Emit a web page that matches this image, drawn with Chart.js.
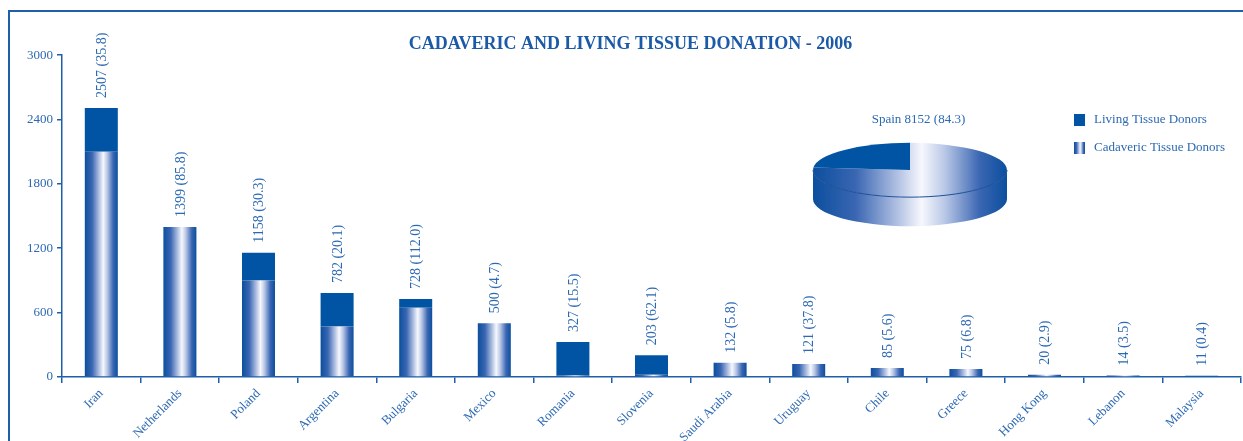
<!DOCTYPE html>
<html>
<head>
<meta charset="utf-8">
<title>Cadaveric and living tissue donation - 2006</title>
<script src="https://cdn.jsdelivr.net/npm/chart.js@4.4.1/dist/chart.umd.min.js"></script>
<style>
  html, body { margin: 0; padding: 0; background: #fff; }
  #wrap { position: relative; width: 1243px; height: 441px; overflow: hidden; }
  #frame { position: absolute; left: 8px; top: 10px; right: -4px; bottom: -4px; border-left: 2px solid #1f5ea9; border-top: 2px solid #1f5ea9; }
  #bars { position: absolute; left: 0; top: 0; }
  #pie { position: absolute; left: 800px; top: 100px; }
</style>
</head>
<body>
<div id="wrap">
  <div id="frame"></div>
  <canvas id="bars" width="1243" height="441"></canvas>
  <canvas id="pie" width="220" height="140"></canvas>
</div>
<script>
// values (donors, and rate per million in brackets)
const categories = ['Iran', 'Netherlands', 'Poland', 'Argentina', 'Bulgaria', 'Mexico', 'Romania', 'Slovenia',
  'Saudi Arabia', 'Uruguay', 'Chile', 'Greece', 'Hong Kong', 'Lebanon', 'Malaysia'];
const cadaveric = [2100, 1399, 900, 470, 645, 500, 15, 20, 132, 121, 85, 75, 20, 14, 0];
const living = [407, 0, 258, 312, 83, 0, 312, 183, 0, 0, 0, 0, 0, 0, 11];
const ratePerMillion = [35.8, 85.8, 30.3, 20.1, 112.0, 4.7, 15.5, 62.1, 5.8, 37.8, 5.6, 6.8, 2.9, 3.5, 0.4];
const yTicks = [0, 600, 1200, 1800, 2400, 3000];

// Spain is shown apart as a pie
const spainName = 'Spain';
const spainCadaveric = 6232;
const spainLiving = 1920;
const spainRate = 84.3;

const SERIF = '"Liberation Serif", "DejaVu Serif", serif';
const DARK = '#0054a3';
const INK = '#2c69b3';
const AXIS = '#1f5ea9';

Chart.defaults.font.family = SERIF;

// the shiny cylinder look: dark edges, white in the middle
function stripe(ctx, x0, x1) {
  if (!Number.isFinite(x0) || !Number.isFinite(x1) || x1 <= x0) return DARK;
  const g = ctx.createLinearGradient(x0, 0, x1, 0);
  g.addColorStop(0, '#0b4f9e');
  g.addColorStop(0.22, '#3a66b2');
  g.addColorStop(0.45, '#b9c7e6');
  g.addColorStop(0.56, '#f7f8fd');
  g.addColorStop(0.68, '#b9c7e6');
  g.addColorStop(0.86, '#3a66b2');
  g.addColorStop(1, '#0b4f9e');
  return g;
}

const BAR_PCT = 0.42;

function barStripe(c) {
  const xs = c.chart.scales.x;
  if (!xs || c.dataIndex === undefined) return DARK;
  const cx = xs.getPixelForValue(c.dataIndex);
  const w = xs.width / categories.length * BAR_PCT;
  return stripe(c.chart.ctx, cx - w / 2, cx + w / 2);
}

// total (rate) written upwards above each stack
const totalsLabels = {
  id: 'totalsLabels',
  afterDatasetsDraw(chart) {
    const { ctx, scales: { x, y } } = chart;
    ctx.save();
    ctx.fillStyle = INK;
    ctx.font = '14px ' + SERIF;
    ctx.textAlign = 'left';
    ctx.textBaseline = 'middle';
    categories.forEach((name, i) => {
      const total = cadaveric[i] + living[i];
      ctx.save();
      ctx.translate(x.getPixelForValue(i) + 1, y.getPixelForValue(total) - 10);
      ctx.rotate(-Math.PI / 2);
      ctx.fillText(total + ' (' + ratePerMillion[i].toFixed(1) + ')', 0, 0);
      ctx.restore();
    });
    ctx.restore();
  }
};

// legend sits top right, next to the pie
const sideLegend = {
  id: 'sideLegend',
  afterDraw(chart) {
    const ctx = chart.ctx;
    const items = [chart.data.datasets[1], chart.data.datasets[0]];
    ctx.save();
    ctx.font = '13px ' + SERIF;
    ctx.textBaseline = 'middle';
    items.forEach((ds, k) => {
      const top = 114 + k * 28;
      ctx.fillStyle = k === 0 ? DARK : stripe(ctx, 1074, 1085);
      ctx.fillRect(1074, top, 11, 12);
      ctx.fillStyle = INK;
      ctx.fillText(ds.label, 1094, top + 6);
    });
    ctx.restore();
  }
};

new Chart(document.getElementById('bars'), {
  type: 'bar',
  data: {
    labels: categories,
    datasets: [
      { label: 'Cadaveric Tissue Donors', data: cadaveric, backgroundColor: barStripe },
      { label: 'Living Tissue Donors', data: living, backgroundColor: DARK }
    ]
  },
  options: {
    responsive: false,
    animation: false,
    categoryPercentage: 1,
    barPercentage: BAR_PCT,
    layout: { padding: { left: 20, right: 2, top: 0, bottom: 0 } },
    scales: {
      x: {
        stacked: true,
        ticks: { color: INK, font: { size: 13 }, minRotation: 45, maxRotation: 45, autoSkip: false, padding: 3 },
        grid: { offset: true, drawOnChartArea: false, tickLength: 6, color: AXIS, lineWidth: 1.5 },
        border: { color: AXIS, width: 1.5 },
        afterFit: (s) => { s.height = 64; }
      },
      y: {
        stacked: true,
        min: 0,
        max: 3000,
        afterBuildTicks: (s) => { s.ticks = yTicks.map(v => ({ value: v })); },
        ticks: { color: INK, font: { size: 13 }, padding: 4, callback: (v) => String(v) },
        grid: { drawOnChartArea: false, tickLength: 5, color: AXIS, lineWidth: 1.5 },
        border: { color: AXIS, width: 1.5 },
        afterFit: (s) => { s.width = 42; }
      }
    },
    plugins: {
      legend: { display: false },
      tooltip: { enabled: false },
      title: {
        display: true,
        text: 'CADAVERIC AND LIVING TISSUE DONATION - 2006',
        color: '#1c5aa6',
        font: { size: 18, weight: 'bold' },
        padding: { top: 33.5, bottom: 0 }
      }
    }
  },
  plugins: [totalsLabels, sideLegend]
});

// squash the pie into a tilted disc and give it a rim
const pie3d = {
  id: 'pie3d',
  beforeDatasetsDraw(chart, args, opts) {
    const arc = chart.getDatasetMeta(0).data[0];
    const { x, y, outerRadius: r } = arc;
    const ctx = chart.ctx;
    const depth = opts.depth / opts.tilt;
    ctx.save();
    ctx.translate(opts.centerX, opts.centerY);
    ctx.scale(1, opts.tilt);
    ctx.translate(-x, -y);
    ctx.fillStyle = stripe(ctx, x - r, x + r);
    ctx.beginPath();
    ctx.arc(x, y + depth, r, 0, Math.PI);
    ctx.lineTo(x - r, y);
    ctx.arc(x, y, r, Math.PI, 0, true);
    ctx.closePath();
    ctx.fill();
  },
  afterDatasetsDraw(chart, args, opts) {
    const ctx = chart.ctx;
    ctx.restore();
    const r = chart.getDatasetMeta(0).data[0].outerRadius;
    ctx.save();
    ctx.strokeStyle = '#1d4f96';
    ctx.lineWidth = 1;
    ctx.beginPath();
    ctx.ellipse(opts.centerX, opts.centerY, r, r * opts.tilt, 0, 0, Math.PI);
    ctx.stroke();
    ctx.restore();
  }
};

new Chart(document.getElementById('pie'), {
  type: 'pie',
  data: {
    labels: ['Cadaveric Tissue Donors', 'Living Tissue Donors'],
    datasets: [{
      data: [spainCadaveric, spainLiving],
      radius: 97,
      borderWidth: 0,
      backgroundColor: [
        (c) => {
          const a = c.chart.chartArea;
          if (!a) return DARK;
          const cx = (a.left + a.right) / 2;
          return stripe(c.chart.ctx, cx - 97, cx + 97);
        },
        DARK
      ]
    }]
  },
  options: {
    responsive: false,
    animation: false,
    radius: 97,
    layout: { padding: { left: 17 } },
    plugins: {
      legend: { display: false },
      tooltip: { enabled: false },
      title: {
        display: true,
        text: spainName + ' ' + (spainCadaveric + spainLiving) + ' (' + spainRate.toFixed(1) + ')',
        color: INK,
        font: { size: 13, weight: 'normal' },
        padding: { top: 12, bottom: 4 }
      },
      pie3d: { tilt: 0.28, depth: 29, centerX: 110, centerY: 70 }
    }
  },
  plugins: [pie3d]
});
</script>
</body>
</html>
